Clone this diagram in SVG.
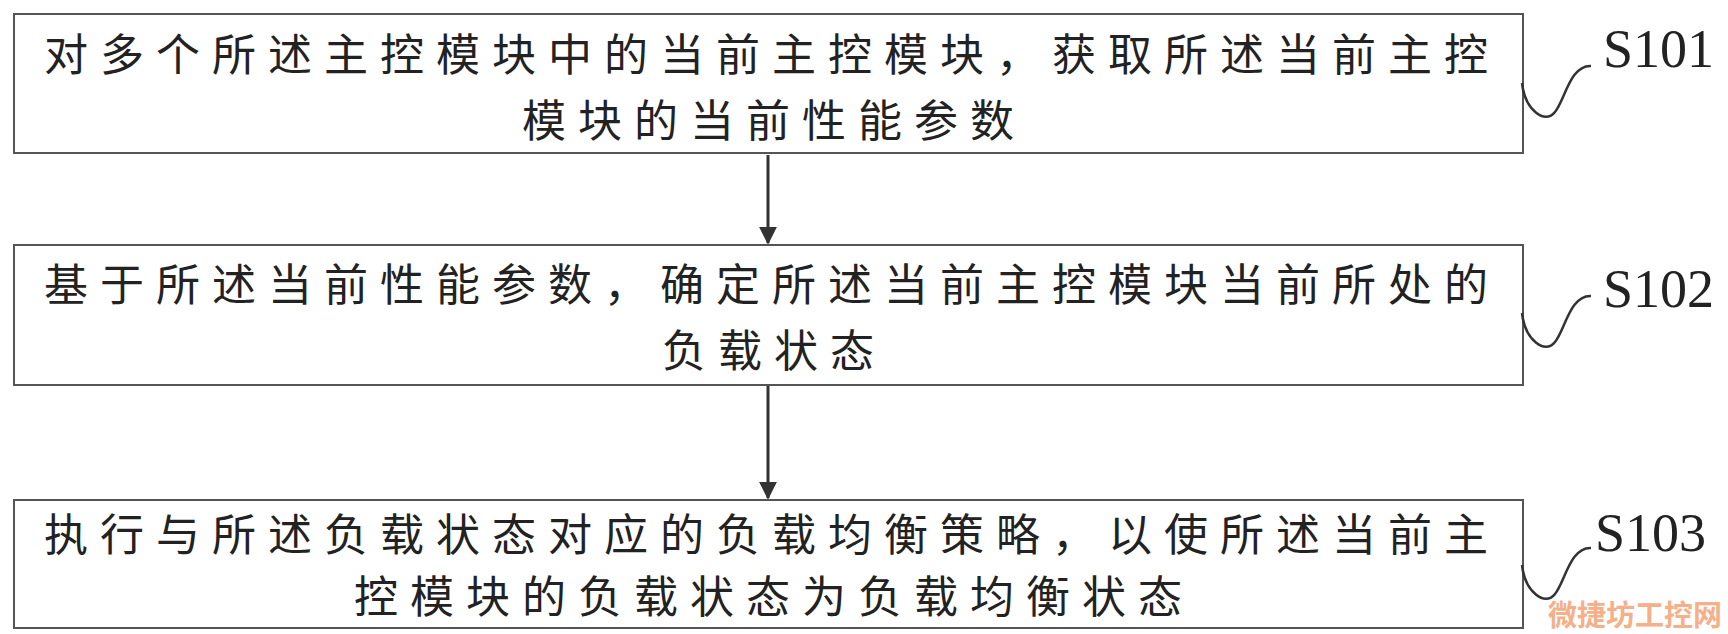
<svg xmlns="http://www.w3.org/2000/svg" width="1728" height="634" viewBox="0 0 1728 634">
<style>
.box{fill:#fff;stroke:#555;stroke-width:2}
.t{font-family:"Noto Sans CJK SC","Noto Sans CJK JP",serif;font-size:44px;fill:#222;letter-spacing:12px}
.lb{font-family:"Liberation Serif",serif;font-size:54px;fill:#222}
.sq{fill:none;stroke:#333;stroke-width:2.5}
.ar{stroke:#333;stroke-width:3;fill:none}
</style>
<defs><marker id="ah" viewBox="0 0 10 10" refX="9" refY="5" markerWidth="6" markerHeight="7" orient="auto" markerUnits="strokeWidth"><path d="M0,0 L10,5 L0,10 z" fill="#333"/></marker></defs>
<rect width="1728" height="634" fill="#fff"/>
<g id="connectors">
<line class="ar" x1="768" y1="155" x2="768" y2="243" marker-end="url(#ah)"/>
<line class="ar" x1="768" y1="385" x2="768" y2="498" marker-end="url(#ah)"/>
</g>
<g id="S101">
<rect class="box" x="14" y="14" width="1509" height="139"/>
<text class="t" x="44" y="71">对多个所述主控模块中的当前主控模块，获取所述当前主控</text>
<text class="t" x="774" y="137" text-anchor="middle">模块的当前性能参数</text>
<path class="sq" d="M1522,83 C1525,110 1545,125 1555,112 C1565,100 1570,65 1591,66"/>
<text class="lb" x="1603" y="67">S101</text>
</g>
<g id="S102">
<rect class="box" x="14" y="245" width="1509" height="140"/>
<text class="t" x="44" y="301">基于所述当前性能参数，确定所述当前主控模块当前所处的</text>
<text class="t" x="774" y="367" text-anchor="middle">负载状态</text>
<path class="sq" d="M1522,313 C1525,340 1545,355 1555,342 C1565,330 1570,295 1591,296"/>
<text class="lb" x="1603" y="307">S102</text>
</g>
<g id="S103">
<rect class="box" x="14" y="500" width="1509" height="128"/>
<text class="t" x="44" y="551">执行与所述负载状态对应的负载均衡策略，以使所述当前主</text>
<text class="t" x="774" y="613" text-anchor="middle">控模块的负载状态为负载均衡状态</text>
<path class="sq" d="M1522,565 C1525,592 1545,607 1555,594 C1565,582 1570,547 1591,548"/>
<text class="lb" x="1595" y="551">S103</text>
</g>
<text x="1548" y="626" font-family="Noto Sans CJK SC,sans-serif" font-size="29" font-weight="bold" fill="#f5b08a">微捷坊工控网</text>
</svg>
